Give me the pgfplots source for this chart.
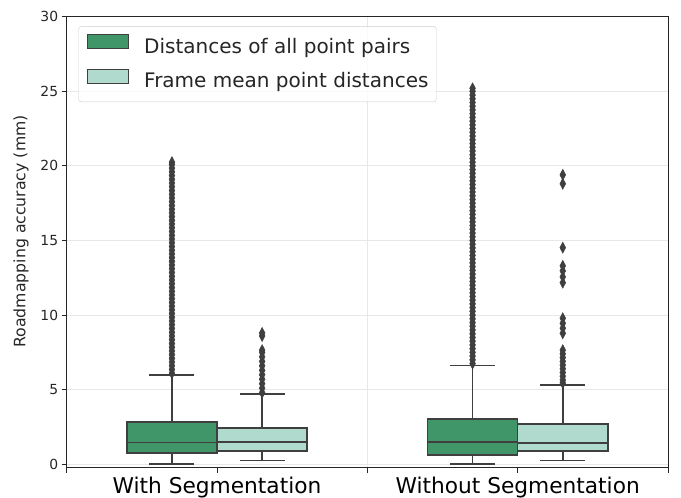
\documentclass[border=0pt]{standalone}
\usepackage{pgfplots}
\pgfplotsset{compat=1.18}
\usepgfplotslibrary{statistics}
\usepackage{fontspec}
\setmainfont{DejaVu Sans}
\definecolor{bxgreen}{RGB}{64,150,104}
\definecolor{bxlight}{RGB}{176,218,206}
\definecolor{dark}{RGB}{63,63,63}
\definecolor{txt}{RGB}{38,38,38}
\definecolor{gridgray}{RGB}{232,232,232}
\begin{document}
\begin{tikzpicture}
\path[use as bounding box] (-66.7bp,-30.3bp) rectangle (614.3bp,467.7bp);
\begin{axis}[
  scale only axis, width=601.3bp, height=451bp,
  xmin=-0.5, xmax=1.5, ymin=-0.23, ymax=30,
  ytick={0,5,10,15,20,25,30},
  xtick={-0.5,0.5,1.5}, xticklabels={},
  extra x ticks={0,1},
  extra x tick labels={With Segmentation, Without Segmentation},
  extra x tick style={grid=none, tick label style={font=\fontsize{21.7bp}{24bp}\selectfont, anchor=north, inner sep=0pt, text height=15.8bp, text depth=0pt, yshift=-5bp}},
  xmajorgrids, ymajorgrids,
  grid style={color=gridgray, line width=0.9bp},
  tick align=outside, major tick length=5bp,
  xtick pos=left, ytick pos=left,
  tick style={color=txt, line width=0.8bp},
  axis line style={color=txt, line width=0.8bp},
  /pgf/number format/assume math mode=true,
  yticklabel style={font=\fontsize{13.9bp}{16bp}\selectfont, text=txt},
  ylabel={Roadmapping accuracy (mm)},
  ylabel style={at={(axis description cs:-0.076,0.524)}, anchor=center, font=\fontsize{15.7bp}{18bp}\selectfont, text=txt},
  legend style={at={(0.0193,0.979)}, anchor=north west, draw=gray!40, rounded corners=3bp,
    fill=white, fill opacity=0.8, text opacity=1, text=txt,
    font=\fontsize{20bp}{24bp}\selectfont, inner xsep=8bp, inner ysep=8bp, row sep=9bp,
    nodes={inner sep=0pt, text height=16bp, text depth=6.5bp},
    /tikz/every odd column/.append style={column sep=15bp}},
  legend cell align=left,
  boxplot/draw direction=y,
  boxplot/every median/.style={line width=1.6bp},
]
% With Segmentation - all point pairs
\addplot[forget plot, boxplot prepared={draw direction=y, draw position=-0.15, lower whisker=0.02, lower quartile=0.74, median=1.47, upper quartile=2.82, upper whisker=6.0, box extend=0.3, whisker extend=0.15},
  draw=dark, fill=bxgreen, line width=1.6bp, mark=diamond*, mark size=5.5bp, mark options={draw=dark, fill=dark, line width=0.5bp, xscale=0.7}]
coordinates {(0,6.1)(0,6.35)(0,6.6)(0,6.85)(0,7.1)(0,7.35)(0,7.6)(0,7.85)(0,8.1)(0,8.35)(0,8.6)(0,8.85)(0,9.1)(0,9.35)(0,9.6)(0,9.85)(0,10.1)(0,10.35)(0,10.6)(0,10.85)(0,11.1)(0,11.35)(0,11.6)(0,11.85)(0,12.1)(0,12.35)(0,12.6)(0,12.85)(0,13.1)(0,13.35)(0,13.6)(0,13.85)(0,14.1)(0,14.35)(0,14.6)(0,14.85)(0,15.1)(0,15.35)(0,15.6)(0,15.85)(0,16.1)(0,16.35)(0,16.6)(0,16.85)(0,17.1)(0,17.35)(0,17.6)(0,17.85)(0,18.1)(0,18.35)(0,18.6)(0,18.85)(0,19.1)(0,19.35)(0,19.6)(0,19.85)(0,20.1)(0,20.25)};
% With Segmentation - frame mean
\addplot[forget plot, boxplot prepared={draw direction=y, draw position=0.15, lower whisker=0.24, lower quartile=0.87, median=1.49, upper quartile=2.43, upper whisker=4.69, box extend=0.3, whisker extend=0.15},
  draw=dark, fill=bxlight, line width=1.6bp, mark=diamond*, mark size=5.5bp, mark options={draw=dark, fill=dark, line width=0.5bp, xscale=0.7}]
coordinates {(0,4.8)(0,5.1)(0,5.4)(0,5.7)(0,6.0)(0,6.3)(0,6.6)(0,6.9)(0,7.2)(0,7.5)(0,7.65)(0,8.6)(0,8.8)};
% Without Segmentation - all point pairs
\addplot[forget plot, boxplot prepared={draw direction=y, draw position=0.85, lower whisker=0.02, lower quartile=0.64, median=1.49, upper quartile=3.02, upper whisker=6.63, box extend=0.3, whisker extend=0.15},
  draw=dark, fill=bxgreen, line width=1.6bp, mark=diamond*, mark size=5.5bp, mark options={draw=dark, fill=dark, line width=0.5bp, xscale=0.7}]
coordinates {(0,6.75)(0,7.0)(0,7.25)(0,7.5)(0,7.75)(0,8.0)(0,8.25)(0,8.5)(0,8.75)(0,9.0)(0,9.25)(0,9.5)(0,9.75)(0,10.0)(0,10.25)(0,10.5)(0,10.75)(0,11.0)(0,11.25)(0,11.5)(0,11.75)(0,12.0)(0,12.25)(0,12.5)(0,12.75)(0,13.0)(0,13.25)(0,13.5)(0,13.75)(0,14.0)(0,14.25)(0,14.5)(0,14.75)(0,15.0)(0,15.25)(0,15.5)(0,15.75)(0,16.0)(0,16.25)(0,16.5)(0,16.75)(0,17.0)(0,17.25)(0,17.5)(0,17.75)(0,18.0)(0,18.25)(0,18.5)(0,18.75)(0,19.0)(0,19.25)(0,19.5)(0,19.75)(0,20.0)(0,20.25)(0,20.5)(0,20.75)(0,21.0)(0,21.25)(0,21.5)(0,21.75)(0,22.0)(0,22.25)(0,22.5)(0,22.75)(0,23.0)(0,23.25)(0,23.5)(0,23.75)(0,24.0)(0,24.25)(0,24.5)(0,24.75)(0,25.0)(0,25.2)};
% Without Segmentation - frame mean
\addplot[forget plot, boxplot prepared={draw direction=y, draw position=1.15, lower whisker=0.24, lower quartile=0.87, median=1.43, upper quartile=2.70, upper whisker=5.31, box extend=0.3, whisker extend=0.15},
  draw=dark, fill=bxlight, line width=1.6bp, mark=diamond*, mark size=5.5bp, mark options={draw=dark, fill=dark, line width=0.5bp, xscale=0.7}]
coordinates {(0,5.45)(0,5.65)(0,5.9)(0,6.15)(0,6.4)(0,6.65)(0,6.9)(0,7.15)(0,7.4)(0,7.65)(0,8.78)(0,9.12)(0,9.45)(0,9.79)(0,12.17)(0,12.56)(0,12.96)(0,13.3)(0,14.52)(0,18.8)(0,19.4)};
\addlegendimage{legend image code/.code={\draw[draw=dark, fill=bxgreen, line width=1bp, fill opacity=1, draw opacity=1, sharp corners] (0bp,-0.5bp) rectangle (41.7bp,13.5bp);}}
\addlegendentry{Distances of all point pairs}
\addlegendimage{legend image code/.code={\draw[draw=dark, fill=bxlight, line width=1bp, fill opacity=1, draw opacity=1, sharp corners] (0bp,-0.5bp) rectangle (41.7bp,13.5bp);}}
\addlegendentry{Frame mean point distances}
\end{axis}
\end{tikzpicture}
\end{document}
